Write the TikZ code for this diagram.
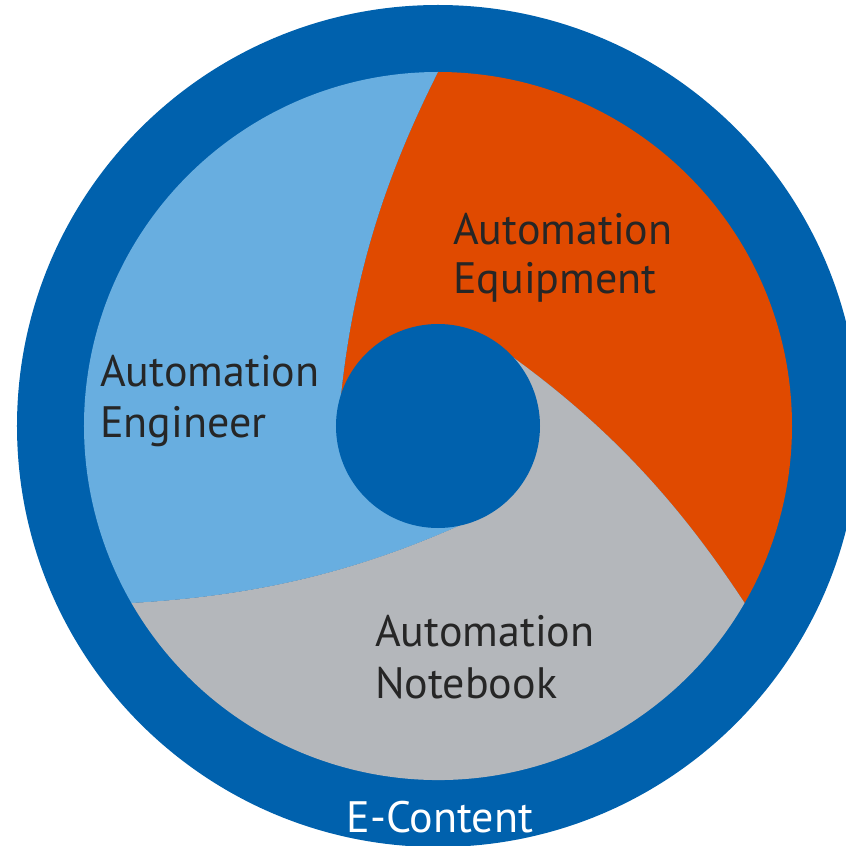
\documentclass[tikz,border=0pt]{standalone}
\usepackage{fontspec}
\setmainfont{PT Sans}
\definecolor{outerblue}{HTML}{0061AD}
\definecolor{lightblue}{HTML}{68AEE0}
\definecolor{orangeseg}{HTML}{E04A00}
\definecolor{greyseg}{HTML}{B4B7BB}
\definecolor{txt}{HTML}{262626}
\begin{document}
\begin{tikzpicture}[x=1pt,y=1pt,
  lbl/.style={anchor=base west,inner sep=0pt,text=txt,font=\fontsize{44}{49}\selectfont},
  foot/.style={anchor=base,inner sep=0pt,text=white,font=\fontsize{44}{48}\selectfont}]
\clip (-438,-420) rectangle (408,426);
\fill[white] (-438,-420) rectangle (408,426);
\fill[outerblue] (0,0) circle (421);
% orange segment
\fill[orangeseg] (90:354) arc[start angle=90,end angle=-30,radius=354]
  .. controls (-19.1:260.8) and (-1.7:178) .. (44.7:101)
  -- (164.7:101) .. controls (118.3:178) and (100.9:260.8) .. (90:354) -- cycle;
% light blue segment
\fill[lightblue] (90:354) arc[start angle=90,end angle=210,radius=354]
  .. controls (220.9:260.8) and (238.3:178) .. (284.7:101)
  -- (164.7:101) .. controls (118.3:178) and (100.9:260.8) .. (90:354) -- cycle;
% grey segment
\fill[greyseg] (210:354) arc[start angle=210,end angle=330,radius=354]
  .. controls (340.9:260.8) and (358.3:178) .. (44.7:101)
  -- (284.7:101) .. controls (238.3:178) and (220.9:260.8) .. (210:354) -- cycle;
\fill[outerblue] (0,0) circle (102);
\node[lbl] (eq1) at (15,181) {Automation};
\node[lbl] (eq2) at (15,132) {Equipment};
\node[lbl] (en1) at (-338,39.3) {Automation};
\node[lbl] (en2) at (-338,-11) {Engineer};
\node[lbl] (nb1) at (-63,-220) {Automation};
\node[lbl] (nb2) at (-63,-272) {Notebook};
\node[foot] (ec) at (2,-406) {E-Content};
\end{tikzpicture}
\end{document}
